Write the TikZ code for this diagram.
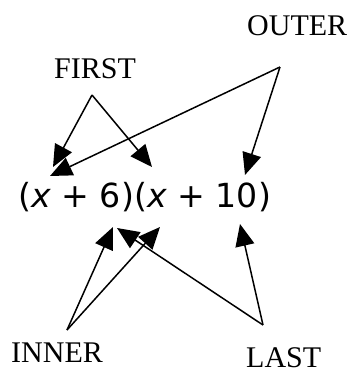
\documentclass[tikz,border=0pt]{standalone}
\usepackage{fontspec}
\setmainfont{Liberation Serif}
\newfontfamily\formulafont{DejaVu Sans}
\usepackage{tikz}
\usetikzlibrary{arrows.meta}

\begin{document}
\begin{tikzpicture}[
    x=1pt, y=-1pt,
    word/.style={anchor=base west, inner sep=0pt, font=\fontsize{30}{30}\selectfont},
    pointer/.style={->, line width=1.5pt},
    >={Triangle[length=22pt, width=19pt]}
]
\useasboundingbox (0,0) rectangle (352,373);

\node[anchor=base west, inner sep=0pt, font=\formulafont\fontsize{33.2}{33.2}\selectfont] (product) at (18,207) {(\textit{x} + 6)(\textit{x} + 10)};

\node[word] (outer) at (247,35) {OUTER};
\node[word] (first) at (54,78) {FIRST};
\node[word] (inner) at (11,362) {INNER};
\node[word] (last) at (246,367) {LAST};

\coordinate (firsttop) at (92,95);
\coordinate (outertop) at (280,67);
\coordinate (innertop) at (67,330);
\coordinate (lasttop) at (263,325);

\coordinate (xone) at (53,167);
\coordinate (xonelow) at (50,176);
\coordinate (xtwo) at (152,167);
\coordinate (ten) at (245,175);
\coordinate (six) at (113,227);
\coordinate (sixlow) at (117,228);
\coordinate (xtwolow) at (160,227);
\coordinate (tenlow) at (240,224);

\draw[pointer] (firsttop) -- (xone);
\draw[pointer] (firsttop) -- (xtwo);
\draw[pointer] (outertop) -- (xonelow);
\draw[pointer] (outertop) -- (ten);
\draw[pointer] (innertop) -- (six);
\draw[pointer] (innertop) -- (xtwolow);
\draw[pointer] (lasttop) -- (sixlow);
\draw[pointer] (lasttop) -- (tenlow);
\end{tikzpicture}
\end{document}
